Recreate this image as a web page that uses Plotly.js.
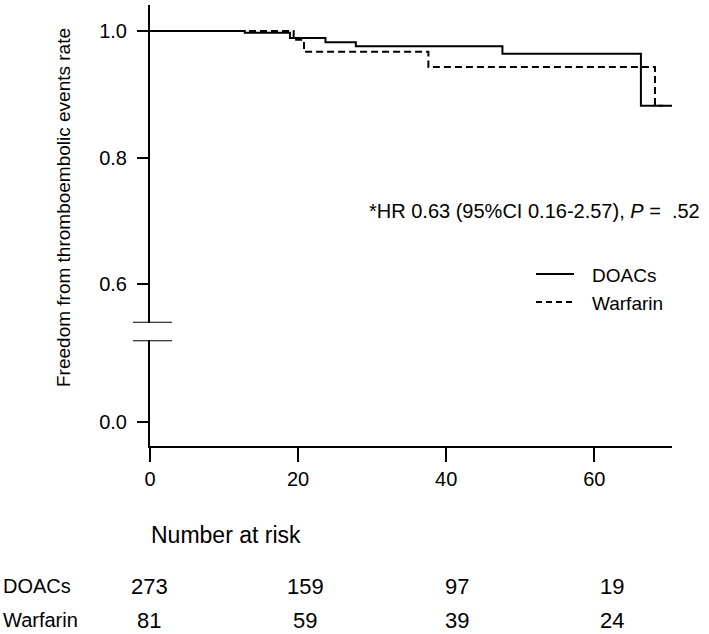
<!DOCTYPE html>
<html>
<head>
<meta charset="utf-8">
<script src="https://cdn.plot.ly/plotly-3.0.1.min.js"></script>
<style>html,body{margin:0;padding:0;background:#fff;}#chart{width:709px;height:634px;}</style>
</head>
<body>
<div id="chart"></div>
<script>
// ---- data ----
const doacsTime = [0, 12.8, 18.9, 23.7, 27.8, 47.6, 66.3, 70.5];
const doacsSurv = [1.0, 0.997, 0.989, 0.982, 0.976, 0.964, 0.882, 0.882];
const warfarinTime = [0, 19.4, 20.8, 37.6, 68.2, 69.3];
const warfarinSurv = [1.0, 0.986, 0.967, 0.943, 0.882, 0.882];

const xTicks = [0, 20, 40, 60];
const yTopTicks = [0.6, 0.8, 1.0];
const yTopTickText = ['0.6', '0.8', '1.0'];
const yBottomTicks = [0];
const yBottomTickText = ['0.0'];

const seriesNames = ['DOACs', 'Warfarin'];
const riskTitle = 'Number at risk';
const doacsAtRisk = [273, 159, 97, 19];
const warfarinAtRisk = [81, 59, 39, 24];
const hrText = '*HR 0.63 (95%CI 0.16-2.57), <i>P</i> =  .52';
const yTitle = 'Freedom from thromboembolic events rate';

// ---- layout geometry (pixels) ----
const W = 709, H = 634;
const L = 150, R = 37, T = 5, B = 188;
const PW = W - L - R, PH = H - T - B;
const px = x => (x - L) / PW;          // pixel x -> paper
const py = y => (H - B - y) / PH;      // pixel y -> paper

const FONT = 'Liberation Sans, Arial, Helvetica, sans-serif';

const traces = [
  {x: doacsTime, y: doacsSurv, name: seriesNames[0], type: 'scatter', mode: 'lines',
   line: {shape: 'hv', color: '#000', width: 2}, xaxis: 'x', yaxis: 'y', showlegend: false, hoverinfo: 'skip'},
  {x: warfarinTime, y: warfarinSurv, name: seriesNames[1], type: 'scatter', mode: 'lines',
   line: {shape: 'hv', color: '#000', width: 2, dash: '7px,4px'}, xaxis: 'x', yaxis: 'y', showlegend: false, hoverinfo: 'skip'}
];

const yTopRange = [0.5393, 1.041];
const yBotRange = [-0.0384, 0.1286];

const annotations = [];
const shapes = [];

// HR annotation
annotations.push({xref: 'paper', yref: 'paper', x: px(702), y: py(211), xanchor: 'right', yanchor: 'middle',
  text: hrText, showarrow: false, font: {family: FONT, size: 20, color: '#000'}});

// legend (manual)
const legY = [274, 302];
seriesNames.forEach((n, i) => {
  shapes.push({type: 'line', xref: 'paper', yref: 'paper', x0: px(536), x1: px(574), y0: py(legY[i]), y1: py(legY[i]),
    line: {color: '#000', width: 2, dash: i === 0 ? 'solid' : '6px,4px'}});
  annotations.push({xref: 'paper', yref: 'paper', x: px(590), y: py(legY[i] + 1), xanchor: 'left', yanchor: 'middle',
    text: n, showarrow: false, font: {family: FONT, size: 19, color: '#000'}});
});

// y title
annotations.push({xref: 'paper', yref: 'paper', x: px(63), y: py(208), xanchor: 'center', yanchor: 'middle',
  text: yTitle, textangle: -90, showarrow: false, font: {family: FONT, size: 19, color: '#000'}});

// axis break marks
shapes.push({type: 'line', xref: 'paper', yref: 'y', x0: px(133), x1: px(172), y0: yTopRange[0], y1: yTopRange[0], line: {color: '#000', width: 2}});
shapes.push({type: 'line', xref: 'paper', yref: 'y2', x0: px(133), x1: px(172), y0: yBotRange[1], y1: yBotRange[1], line: {color: '#000', width: 2}});

// number at risk table
annotations.push({xref: 'paper', yref: 'paper', x: px(149), y: py(535), xanchor: 'left', yanchor: 'middle',
  text: riskTitle, showarrow: false, font: {family: FONT, size: 23, color: '#000'}});
const rowY = [586, 620];
const colX = [149, 305, 457, 612];
[doacsAtRisk, warfarinAtRisk].forEach((row, r) => {
  annotations.push({xref: 'paper', yref: 'paper', x: px(1), y: py(rowY[r]), xanchor: 'left', yanchor: 'middle',
    text: seriesNames[r], showarrow: false, font: {family: FONT, size: 20, color: '#000'}});
  row.forEach((v, c) => {
    annotations.push({xref: 'paper', yref: 'paper', x: px(colX[c]), y: py(rowY[r]), xanchor: 'center', yanchor: 'middle',
      text: String(v), showarrow: false, font: {family: FONT, size: 22, color: '#000'}});
  });
});

const axisCommon = {showgrid: false, zeroline: false, showline: true, linecolor: '#000', linewidth: 2,
  ticks: 'outside', tickcolor: '#000', tickwidth: 2, tickfont: {family: FONT, size: 20, color: '#000'}, fixedrange: true};

const layout = {
  width: W, height: H,
  margin: {l: L, r: R, t: T, b: B, pad: 0},
  paper_bgcolor: '#fff', plot_bgcolor: '#fff',
  showlegend: false,
  font: {family: FONT, color: '#000'},
  xaxis: Object.assign({}, axisCommon, {anchor: 'y2', range: [0, 70.5], tickmode: 'array', tickvals: xTicks,
    ticklen: 14, domain: [0, 1]}),
  yaxis: Object.assign({}, axisCommon, {anchor: 'x', domain: [py(322.7), 1], range: yTopRange, tickmode: 'array',
    tickvals: yTopTicks, ticktext: yTopTickText, ticklen: 11, ticklabelstandoff: 6}),
  yaxis2: Object.assign({}, axisCommon, {anchor: 'x', domain: [0, py(340.3)], range: yBotRange, tickmode: 'array',
    tickvals: yBottomTicks, ticktext: yBottomTickText, ticklen: 11, ticklabelstandoff: 6}),
  annotations: annotations,
  shapes: shapes
};

Plotly.newPlot('chart', traces, layout, {staticPlot: true, displayModeBar: false});
</script>
</body>
</html>
